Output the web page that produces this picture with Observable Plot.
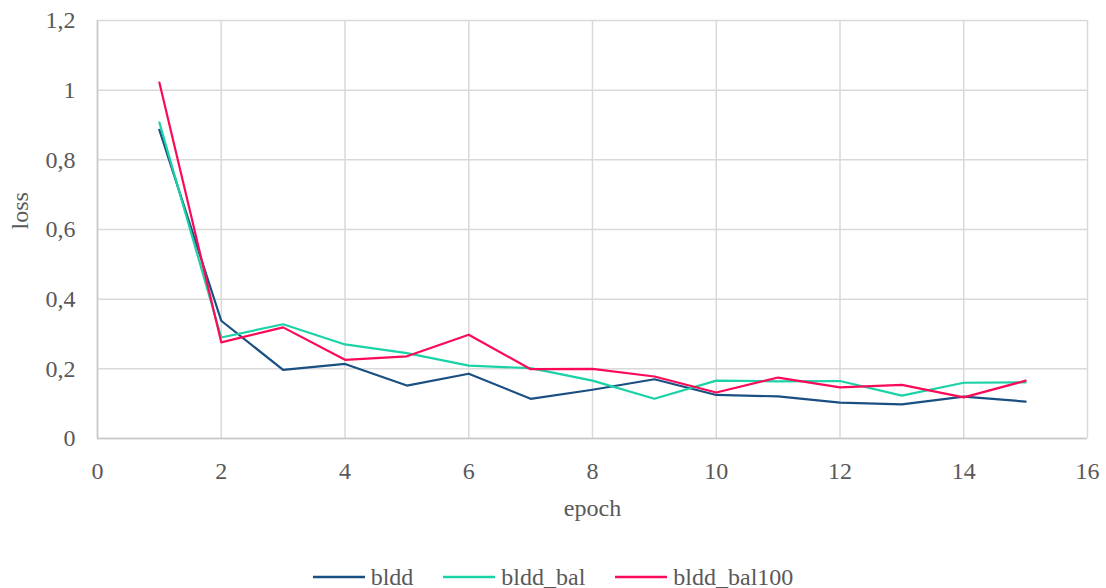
<!DOCTYPE html>
<html>
<head>
<meta charset="utf-8">
<script src="https://cdn.jsdelivr.net/npm/d3@7"></script>
<script src="https://cdn.jsdelivr.net/npm/@observablehq/plot@0.6"></script>
<style>
  body { margin: 0; background: #fff; }
  #chart svg { display: block; }
  .legend {
    display: flex; justify-content: center; align-items: center;
    padding-top: 36px; height: 22px;
    font-family: "Liberation Serif", serif; font-size: 24px; color: #595959;
  }
  .legend .item { display: flex; align-items: center; margin: 0 15px; }
  .legend svg { margin-right: 6px; }
</style>
</head>
<body>
<div id="chart"></div>
<div class="legend" id="legend"></div>
<script>
// Training loss per epoch for three model variants
const epochs = [1, 2, 3, 4, 5, 6, 7, 8, 9, 10, 11, 12, 13, 14, 15];
const bldd = [0.886, 0.338, 0.197, 0.214, 0.152, 0.186, 0.114, 0.14, 0.17, 0.125, 0.121, 0.103, 0.098, 0.12, 0.106];
const bldd_bal = [0.907, 0.29, 0.328, 0.27, 0.245, 0.209, 0.202, 0.166, 0.114, 0.166, 0.164, 0.165, 0.123, 0.16, 0.161];
const bldd_bal100 = [1.022, 0.276, 0.319, 0.226, 0.236, 0.298, 0.199, 0.2, 0.178, 0.132, 0.175, 0.147, 0.154, 0.118, 0.166];

const seriesNames = ["bldd", "bldd_bal", "bldd_bal100"];
const xTicks = [0, 2, 4, 6, 8, 10, 12, 14, 16];
const yTicks = [0, 0.2, 0.4, 0.6, 0.8, 1, 1.2];
const yTickLabels = ["0", "0,2", "0,4", "0,6", "0,8", "1", "1,2"];

const palette = ["#1a4f82", "#1ad2a6", "#fb0a58"];
const gridColor = "#d9d9d9";
const textColor = "#595959";

const seriesValues = [bldd, bldd_bal, bldd_bal100];
const rows = seriesNames.flatMap((name, s) =>
  epochs.map((e, i) => ({series: name, epoch: e, loss: seriesValues[s][i]}))
);

const chart = Plot.plot({
  width: 1106,
  height: 530,
  marginLeft: 97,
  marginRight: 19,
  marginTop: 20,
  marginBottom: 92,
  style: {fontFamily: "Liberation Serif, serif", fontSize: "24px", color: textColor, background: "#fff"},
  x: {domain: [0, 16]},
  y: {domain: [0, 1.2]},
  color: {domain: seriesNames, range: palette},
  marks: [
    Plot.gridX(xTicks, {stroke: gridColor, strokeOpacity: 1, strokeWidth: 1.5}),
    Plot.gridY(yTicks, {stroke: gridColor, strokeOpacity: 1, strokeWidth: 1.5}),
    Plot.ruleY([0], {stroke: "#c8c8c8", strokeWidth: 1.5}),
    Plot.ruleX([0], {stroke: "#c8c8c8", strokeWidth: 1.5}),
    Plot.axisX(xTicks, {tickSize: 0, tickPadding: 23, label: null, fill: textColor}),
    Plot.axisY(yTicks, {
      tickSize: 0, tickPadding: 22, label: null, fill: textColor,
      tickFormat: d => yTickLabels[yTicks.indexOf(d)]
    }),
    Plot.text(["epoch"], {frameAnchor: "bottom", dy: 70, lineAnchor: "middle", fill: textColor}),
    Plot.text(["loss"], {frameAnchor: "left", dx: -77, rotate: -90, lineAnchor: "middle", fill: textColor}),
    Plot.line(rows, {x: "epoch", y: "loss", z: "series", stroke: "series", strokeWidth: 2.2})
  ]
});
document.getElementById("chart").append(chart);

// Legend: line swatch + series name
const legend = document.getElementById("legend");
seriesNames.forEach((name, i) => {
  const item = document.createElement("div");
  item.className = "item";
  item.innerHTML =
    `<svg width="52" height="6"><line x1="0" y1="3" x2="52" y2="3" stroke="${palette[i]}" stroke-width="2.5"/></svg><span>${name}</span>`;
  legend.append(item);
});
</script>
</body>
</html>
